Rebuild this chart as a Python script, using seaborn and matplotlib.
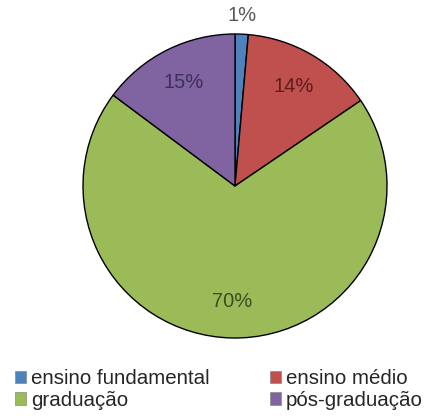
import numpy as np
import matplotlib
matplotlib.use("Agg")
import matplotlib.pyplot as plt
import seaborn as sns

categories = ["ensino fundamental", "ensino médio", "graduação", "pós-graduação"]
values = [1.4, 14.1, 69.7, 14.8]
colors = ["#4F81BD", "#C0504D", "#9BBB59", "#8064A2"]
label_colors = ["#595959", "#5A1E1C", "#3D4F1E", "#3D2F5A"]

sns.set_theme(style="white")
plt.rcParams["font.family"] = ["Liberation Sans", "DejaVu Sans"]

fig = plt.figure(figsize=(4.25, 4.16), dpi=100)
fig.patch.set_facecolor("white")
W, H = 425, 416
cx, cy, r = 235, 186, 152
ax = fig.add_axes([(cx - r) / W, (H - cy - r) / H, 2 * r / W, 2 * r / H])

wedges, texts, autotexts = ax.pie(
    values, colors=colors, startangle=90, counterclock=False,
    autopct="%.0f%%", pctdistance=0.76,
    wedgeprops=dict(edgecolor="black", linewidth=1.0),
    textprops=dict(fontsize=14.5),
)
ax.set_xlim(-1, 1)
ax.set_ylim(-1, 1)
ax.set_aspect("auto")
ax.axis("off")

for i, (w, t) in enumerate(zip(wedges, autotexts)):
    t.set_color(label_colors[i])
    mid = np.deg2rad((w.theta1 + w.theta2) / 2)
    if values[i] < 5:
        t.set_position((1.12 * np.cos(mid), 1.12 * np.sin(mid)))

order = [0, 2, 1, 3]
leg = fig.legend(
    [wedges[i] for i in order], [categories[i] for i in order],
    ncol=2, loc="upper left", bbox_to_anchor=(0.035, 0.112),
    frameon=False, fontsize=14.8, handlelength=0.55, handleheight=0.55,
    handletextpad=0.25, columnspacing=2.9, labelspacing=0.12,
    borderpad=0, borderaxespad=0,
)
for h in leg.legend_handles:
    h.set_linewidth(0.5)
    h.set_edgecolor("#888888")

fig.savefig("out.png", dpi=100, facecolor="white")
